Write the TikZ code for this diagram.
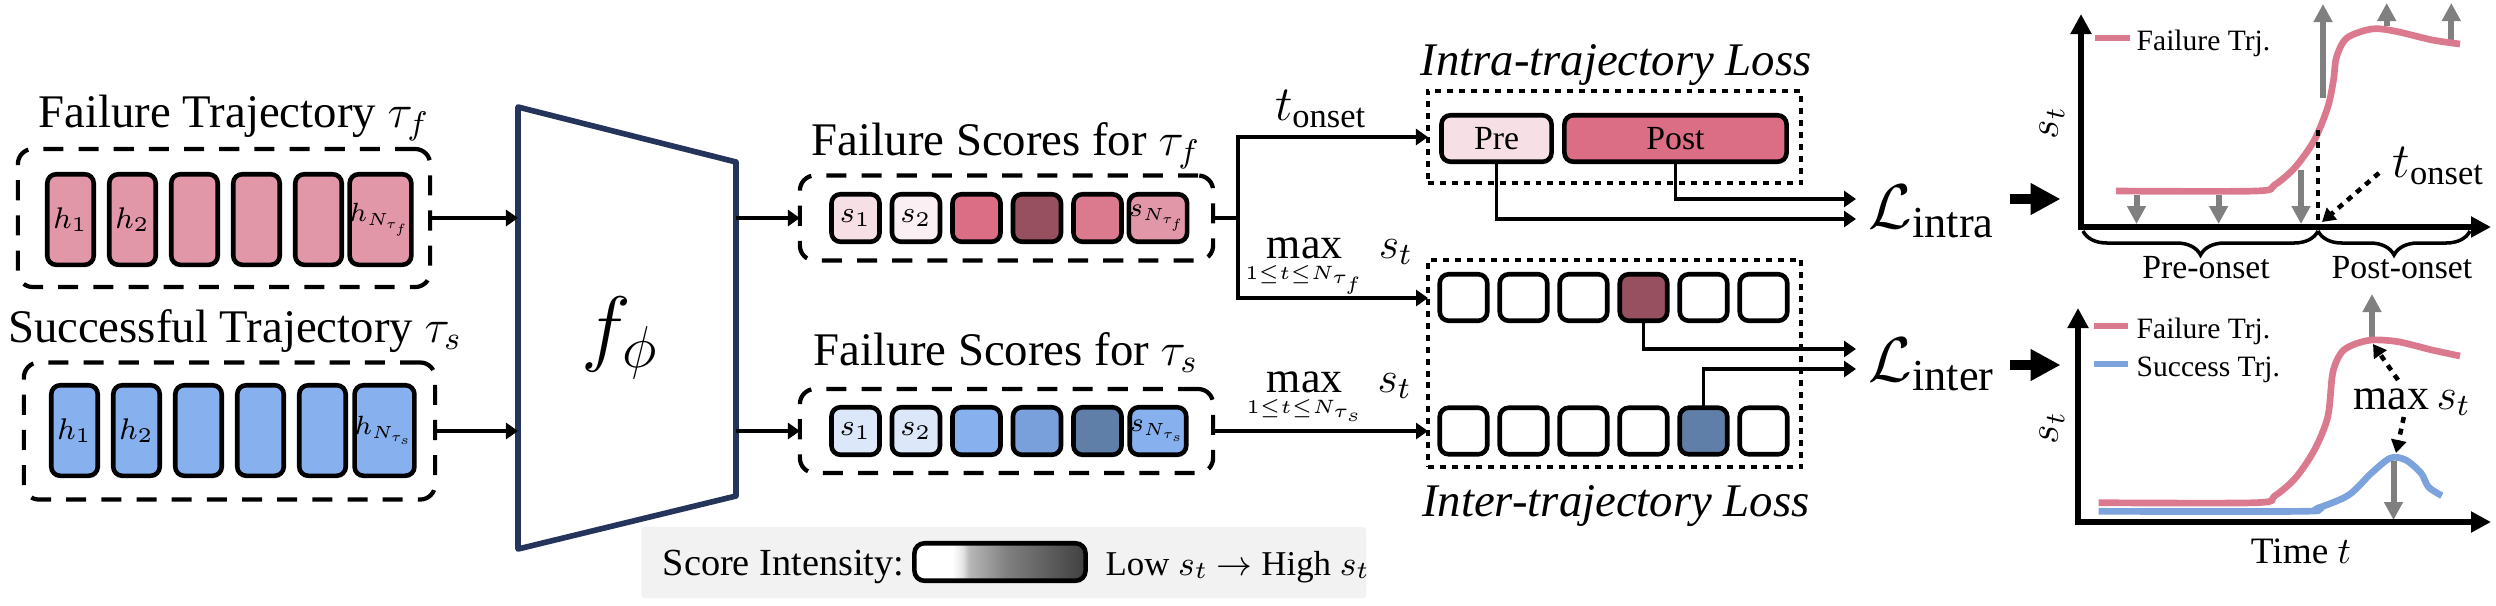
\RequirePackage{fix-cm}
\documentclass[tikz,border=0pt]{standalone}
\usepackage{fontspec}
\setmainfont{Liberation Serif}
\usepackage{tikz}
\usetikzlibrary{arrows.meta,decorations.pathreplacing}
\DeclareMathSizes{7.5}{7.5}{5}{3.8}
\DeclareMathSizes{12.5}{12.5}{8.75}{5.5}
\definecolor{navy}{HTML}{25345A}
\definecolor{pinkA}{HTML}{E297A9}
\definecolor{pinkB}{HTML}{F6E0E6}
\definecolor{pinkC}{HTML}{FAF0F3}
\definecolor{pinkD}{HTML}{DB6D85}
\definecolor{pinkE}{HTML}{96505F}
\definecolor{pinkF}{HTML}{DB7A8E}
\definecolor{blueA}{HTML}{86B1EE}
\definecolor{blueB}{HTML}{DCE8F9}
\definecolor{blueC}{HTML}{7AA0DC}
\definecolor{blueD}{HTML}{5F7FA8}
\definecolor{lineblue}{HTML}{7CA3DC}
\definecolor{panel}{HTML}{F2F2F2}
\pgfdeclarehorizontalshading{scoreshade}{100bp}{color(0bp)=(white); color(36bp)=(white); color(39bp)=(white!90!black); color(41bp)=(white!72!black); color(52bp)=(white!50!black); color(75bp)=(white!25!black); color(100bp)=(white!25!black)}
\begin{document}
\begin{tikzpicture}[x=0.01cm,y=0.01cm]
\tikzstyle{every node}+=[inner sep=0pt]
\tikzstyle{cell}=[draw,line width=1.3pt,rounded corners=0.09cm,outer sep=0pt,font=\fontsize{8.5}{10}\selectfont]
\tikzstyle{hcell}=[cell,minimum width=0.465cm,minimum height=0.905cm]
\tikzstyle{scell}=[cell,minimum width=0.48cm,minimum height=0.475cm]
\tikzstyle{icell}=[cell,minimum width=0.475cm,minimum height=0.465cm]
\tikzstyle{lastcell}=[font=\fontsize{7.5}{9}\selectfont]
\tikzstyle{dashbox}=[draw,line width=1.2pt,rounded corners=0.15cm,dash pattern=on 5.7pt off 4.3pt,outer sep=0pt]
\tikzstyle{dotbox}=[draw,line width=1.3pt,dash pattern=on 1.7pt off 1.7pt,outer sep=0pt,minimum width=3.73cm]
\tikzstyle{titletext}=[anchor=base,font=\fontsize{13.3}{16}\selectfont]
\tikzstyle{plottext}=[anchor=base,font=\fontsize{9.6}{12}\selectfont]
\tikzstyle{legendtext}=[anchor=base west,font=\fontsize{8.4}{10}\selectfont]
\tikzstyle{conn}=[line width=1.1pt,-{Triangle[length=0.12cm,width=0.16cm]}]
\tikzstyle{bigarrow}=[line width=2.85pt,-{Triangle[length=0.3cm,width=0.3cm]}]
\tikzstyle{greyarrow}=[gray,line width=1.7pt,-{Triangle[length=0.18cm,width=0.18cm]}]
\tikzstyle{dotarrow}=[line width=1.3pt,dash pattern=on 1.7pt off 1.7pt,-{Triangle[length=0.13cm,width=0.15cm]}]
\tikzstyle{plotaxis}=[line width=1.8pt,{Triangle[length=0.2cm,width=0.2cm]}-{Triangle[length=0.2cm,width=0.2cm]}]
\tikzstyle{redline}=[color=pinkF,line width=1.9pt]
\tikzstyle{blueline}=[color=lineblue,line width=1.9pt]
\useasboundingbox (0,0) rectangle (2496,-605);
\node [titletext] (failtitle) at (234,-127) {Failure Trajectory $\tau_f$};
\node [dashbox,minimum width=4.12cm,minimum height=1.38cm] (failtraj) at (224,-218) {};
\node [hcell,fill=pinkA] (fh1) at (70.5,-219.5) {$h_1$};
\node [hcell,fill=pinkA] (fh2) at (132.5,-219.5) {$h_2$};
\node [hcell,fill=pinkA] (fh3) at (194.5,-219.5) {};
\node [hcell,fill=pinkA] (fh4) at (256.5,-219.5) {};
\node [hcell,fill=pinkA] (fh5) at (318.5,-219.5) {};
\node [hcell,lastcell,fill=pinkA] (fh6) at (380.5,-219.5) {$h_{N_{\tau_f}}$};
\node [titletext] (succtitle) at (235,-342) {Successful Trajectory $\tau_s$};
\node [dashbox,minimum width=4.11cm,minimum height=1.37cm] (succtraj) at (229.5,-431) {};
\node [hcell,fill=blueA] (sh1) at (74.5,-430.5) {$h_1$};
\node [hcell,fill=blueA] (sh2) at (136.5,-430.5) {$h_2$};
\node [hcell,fill=blueA] (sh3) at (198.5,-430.5) {};
\node [hcell,fill=blueA] (sh4) at (260.5,-430.5) {};
\node [hcell,fill=blueA] (sh5) at (322.5,-430.5) {};
\node [hcell,lastcell,fill=blueA] (sh6) at (384.5,-430.5) {$h_{N_{\tau_s}}$};
\draw [navy,line width=1.6pt,line join=round] (518,-107) -- (736,-162) -- (736,-496) -- (518,-549) -- cycle;
\node [font=\fontsize{24}{28}\selectfont] (fphi) at (620,-338) {$f_\phi$};
\coordinate (fphia) at (518,-218);
\coordinate (fphib) at (518,-431);
\coordinate (fphic) at (736,-218);
\coordinate (fphid) at (736,-431);
\draw [conn] (failtraj.east) -- (fphia);
\draw [conn] (succtraj.east) -- (fphib);
\node [titletext] (fstitle) at (1006,-155) {Failure Scores for $\tau_f$};
\node [dashbox,minimum width=4.13cm,minimum height=0.85cm] (failscore) at (1006.5,-218) {};
\node [scell,fill=pinkB] (fs1) at (855.5,-218) {$s_1$};
\node [scell,fill=pinkC] (fs2) at (916,-218) {$s_2$};
\node [scell,fill=pinkD] (fs3) at (976.5,-218) {};
\node [scell,fill=pinkE] (fs4) at (1037,-218) {};
\node [scell,fill=pinkF] (fs5) at (1097.5,-218) {};
\node [scell,lastcell,fill=pinkA] (fs6) at (1158,-218) {$s_{N_{\tau_f}}$};
\node [titletext] (sstitle) at (1006,-365) {Failure Scores for $\tau_s$};
\node [dashbox,minimum width=4.13cm,minimum height=0.84cm] (succscore) at (1006.5,-431) {};
\node [scell,fill=blueB] (ss1) at (855.5,-431) {$s_1$};
\node [scell,fill=blueB] (ss2) at (916,-431) {$s_2$};
\node [scell,fill=blueA] (ss3) at (976.5,-431) {};
\node [scell,fill=blueC] (ss4) at (1037,-431) {};
\node [scell,fill=blueD] (ss5) at (1097.5,-431) {};
\node [scell,lastcell,fill=blueA] (ss6) at (1158,-431) {$s_{N_{\tau_s}}$};
\draw [conn] (fphic) -- (failscore.west);
\draw [conn] (fphid) -- (succscore.west);
\node [titletext,font=\fontsize{13.3}{16}\selectfont\itshape] (intratitle) at (1616,-75) {Intra-trajectory Loss};
\node [dotbox,minimum height=0.92cm] (intrabox) at (1614.5,-137) {};
\node [cell,fill=pinkB,minimum width=1.1cm,minimum height=0.465cm,font=\fontsize{9.6}{12}\selectfont] (pre) at (1496.5,-138.5) {Pre};
\node [cell,fill=pinkD,minimum width=2.22cm,minimum height=0.465cm,font=\fontsize{9.6}{12}\selectfont] (post) at (1675.5,-138.5) {Post};
\node [dotbox,minimum height=2.07cm] (interbox) at (1614.5,-363.5) {};
\node [icell] (ia1) at (1463.5,-297.5) {};
\node [icell] (ia2) at (1523.5,-297.5) {};
\node [icell] (ia3) at (1583.5,-297.5) {};
\node [icell,fill=pinkE] (ia4) at (1643.5,-297.5) {};
\node [icell] (ia5) at (1703.5,-297.5) {};
\node [icell] (ia6) at (1763.5,-297.5) {};
\node [icell] (ib1) at (1463.5,-431) {};
\node [icell] (ib2) at (1523.5,-431) {};
\node [icell] (ib3) at (1583.5,-431) {};
\node [icell] (ib4) at (1643.5,-431) {};
\node [icell,fill=blueD] (ib5) at (1703.5,-431) {};
\node [icell] (ib6) at (1763.5,-431) {};
\node [titletext,font=\fontsize{13.3}{16}\selectfont\itshape] (intertitle) at (1616,-516) {Inter-trajectory Loss};
\coordinate (split) at (1238,-218);
\coordinate (interina) at (1428,-298);
\coordinate (interinb) at (1428,-431);
\draw [conn] (failscore.east) -- (split) |- (intrabox.west);
\draw [conn] (split) |- (interina);
\draw [conn] (succscore.east) -- (interinb);
\node [anchor=base,font=\fontsize{14}{16}\selectfont] (onsetlabel) at (1321,-120) {$t_{\mathrm{onset}}$};
\node [anchor=base,font=\fontsize{12.5}{15}\selectfont] (maxf) at (1329,-258) {$\max\limits_{\scriptscriptstyle 1\leq t\leq N_{\tau_f}}\,s_t$};
\node [anchor=base,font=\fontsize{12.5}{15}\selectfont] (maxs) at (1329,-392) {$\max\limits_{\scriptscriptstyle 1\leq t\leq N_{\tau_s}}\,s_t$};
\node [anchor=base west,font=\fontsize{18}{20}\selectfont] (lintra) at (1868,-228) {$\mathcal{L}_{\mathrm{intra}}$};
\node [anchor=base west,font=\fontsize{18}{20}\selectfont] (linter) at (1868,-381) {$\mathcal{L}_{\mathrm{inter}}$};
\coordinate (lintraa) at (1856,-199);
\coordinate (lintrab) at (1856,-219);
\coordinate (litera) at (1856,-349);
\coordinate (literb) at (1856,-369);
\draw [conn] (post.south) |- (lintraa);
\draw [conn] (pre.south) |- (lintrab);
\draw [conn] (ia4.south) |- (litera);
\draw [conn] (ib5.north) |- (literb);
\coordinate (biga) at (2009.5,-199);
\coordinate (bigb) at (2060.5,-199);
\coordinate (bigc) at (2009.5,-365);
\coordinate (bigd) at (2060.5,-365);
\draw [bigarrow] (biga) -- (bigb);
\draw [bigarrow] (bigc) -- (bigd);
\coordinate (ytopa) at (2081,-14);
\coordinate (orga) at (2081,-227);
\coordinate (xenda) at (2491,-227);
\coordinate (ga1) at (2136.5,-195);
\coordinate (ga2) at (2136.5,-224);
\coordinate (gb1) at (2218.6,-195);
\coordinate (gb2) at (2218.6,-224);
\coordinate (gc1) at (2301,-170);
\coordinate (gc2) at (2301,-224);
\coordinate (gd1) at (2323,-98);
\coordinate (gd2) at (2323,-4);
\coordinate (ge1) at (2386.7,-26);
\coordinate (ge2) at (2386.7,-3);
\coordinate (gf1) at (2451.3,-41);
\coordinate (gf2) at (2451.3,-3);
\draw [greyarrow] (ga1) -- (ga2);
\draw [greyarrow] (gb1) -- (gb2);
\draw [greyarrow] (gc1) -- (gc2);
\draw [greyarrow] (gd1) -- (gd2);
\draw [greyarrow] (ge1) -- (ge2);
\draw [greyarrow] (gf1) -- (gf2);
\draw [redline] plot [smooth,tension=0.5] coordinates {(2116,-191) (2255.5,-191) (2274.5,-185) (2295.4,-167) (2314.4,-140) (2327.8,-107) (2333.5,-80) (2336.5,-57) (2346.8,-38) (2371.5,-29) (2394.3,-31) (2432.3,-40) (2460,-44)};
\draw [plotaxis] (ytopa) -- (orga) -- (xenda);
\coordinate (lega) at (2095,-38);
\coordinate (legb) at (2130,-38);
\draw [redline] (lega) -- (legb);
\node [legendtext] (legfaila) at (2136,-50) {Failure Trj.};
\node [font=\fontsize{12}{14}\selectfont,rotate=90] (styla) at (2052,-123) {$s_t$};
\coordinate (onsettop) at (2318,-130);
\coordinate (onsetbot) at (2318,-222);
\draw [line width=1.3pt,dash pattern=on 1.7pt off 1.7pt] (onsettop) -- (onsetbot);
\coordinate (onsetfrom) at (2379,-173);
\coordinate (onsetto) at (2322,-222);
\draw [dotarrow] (onsetfrom) -- (onsetto);
\node [anchor=base west,font=\fontsize{14}{16}\selectfont] (onsetplot) at (2392,-177) {$t_{\mathrm{onset}}$};
\coordinate (bracea) at (2083,-231);
\coordinate (braceb) at (2318,-231);
\coordinate (bracec) at (2470,-231);
\draw [line width=1pt,decorate,decoration={brace,mirror,amplitude=0.24cm}] (bracea) -- (braceb);
\draw [line width=1pt,decorate,decoration={brace,mirror,amplitude=0.24cm}] (braceb) -- (bracec);
\node [plottext] (preonset) at (2206,-278) {Pre-onset};
\node [plottext] (postonset) at (2402,-278) {Post-onset};
\coordinate (ytopb) at (2078,-308);
\coordinate (orgb) at (2078,-522);
\coordinate (xendb) at (2491,-522);
\coordinate (gg1) at (2372,-340);
\coordinate (gg2) at (2372,-294);
\coordinate (gh1) at (2393.5,-461);
\coordinate (gh2) at (2393.5,-520);
\draw [greyarrow] (gg1) -- (gg2);
\draw [redline] plot [smooth,tension=0.5] coordinates {(2098.5,-502.7) (2255.5,-502.7) (2274.5,-496) (2295.4,-478) (2314.4,-450) (2327.8,-416.7) (2332.7,-373) (2341,-353) (2352.5,-345) (2371.5,-340) (2398,-341.7) (2432,-350) (2460,-356)};
\draw [blueline] plot [smooth,tension=0.5] coordinates {(2098.5,-511.3) (2301,-511.3) (2318,-508) (2348.7,-495) (2371.5,-473) (2390.5,-458) (2405.7,-460) (2421,-473) (2428.5,-487) (2441.8,-495.7)};
\draw [greyarrow] (gh1) -- (gh2);
\draw [plotaxis,line width=1.5pt] (ytopb) -- (orgb) -- (xendb);
\coordinate (legc) at (2094,-326);
\coordinate (legd) at (2128,-326);
\coordinate (lege) at (2094,-364);
\coordinate (legf) at (2128,-364);
\draw [redline] (legc) -- (legd);
\draw [blueline] (lege) -- (legf);
\node [legendtext] (legfailb) at (2136,-338) {Failure Trj.};
\node [legendtext] (legsucc) at (2136,-376) {Success Trj.};
\node [font=\fontsize{12}{14}\selectfont,rotate=90] (stylb) at (2052,-428) {$s_t$};
\node [anchor=base,font=\fontsize{12.5}{15}\selectfont] (maxplot) at (2412,-409) {$\max s_t$};
\coordinate (maxfroma) at (2398,-380);
\coordinate (maxtoa) at (2373,-344);
\coordinate (maxfromb) at (2403.8,-417);
\coordinate (maxtob) at (2396,-453);
\draw [dotarrow] (maxfroma) -- (maxtoa);
\draw [dotarrow] (maxfromb) -- (maxtob);
\node [anchor=base,font=\fontsize{10.6}{13}\selectfont] (timelabel) at (2301,-563) {Time $t$};
\node [fill=panel,rounded corners=0.03cm,minimum width=7.245cm,minimum height=0.71cm] (panelbg) at (1003.75,-562.5) {};
\node [anchor=base west,font=\fontsize{10.9}{14}\selectfont] (scorelabel) at (662,-575) {Score Intensity:};
\node [draw,line width=1.3pt,rounded corners=0.1cm,shading=scoreshade,minimum width=1.71cm,minimum height=0.375cm] (scorebar) at (1000,-562) {};
\node [anchor=base west,font=\fontsize{9.9}{13}\selectfont] (scorerange) at (1105,-575) {Low $s_t$ $\rightarrow$ High $s_t$};
\end{tikzpicture}
\end{document}
